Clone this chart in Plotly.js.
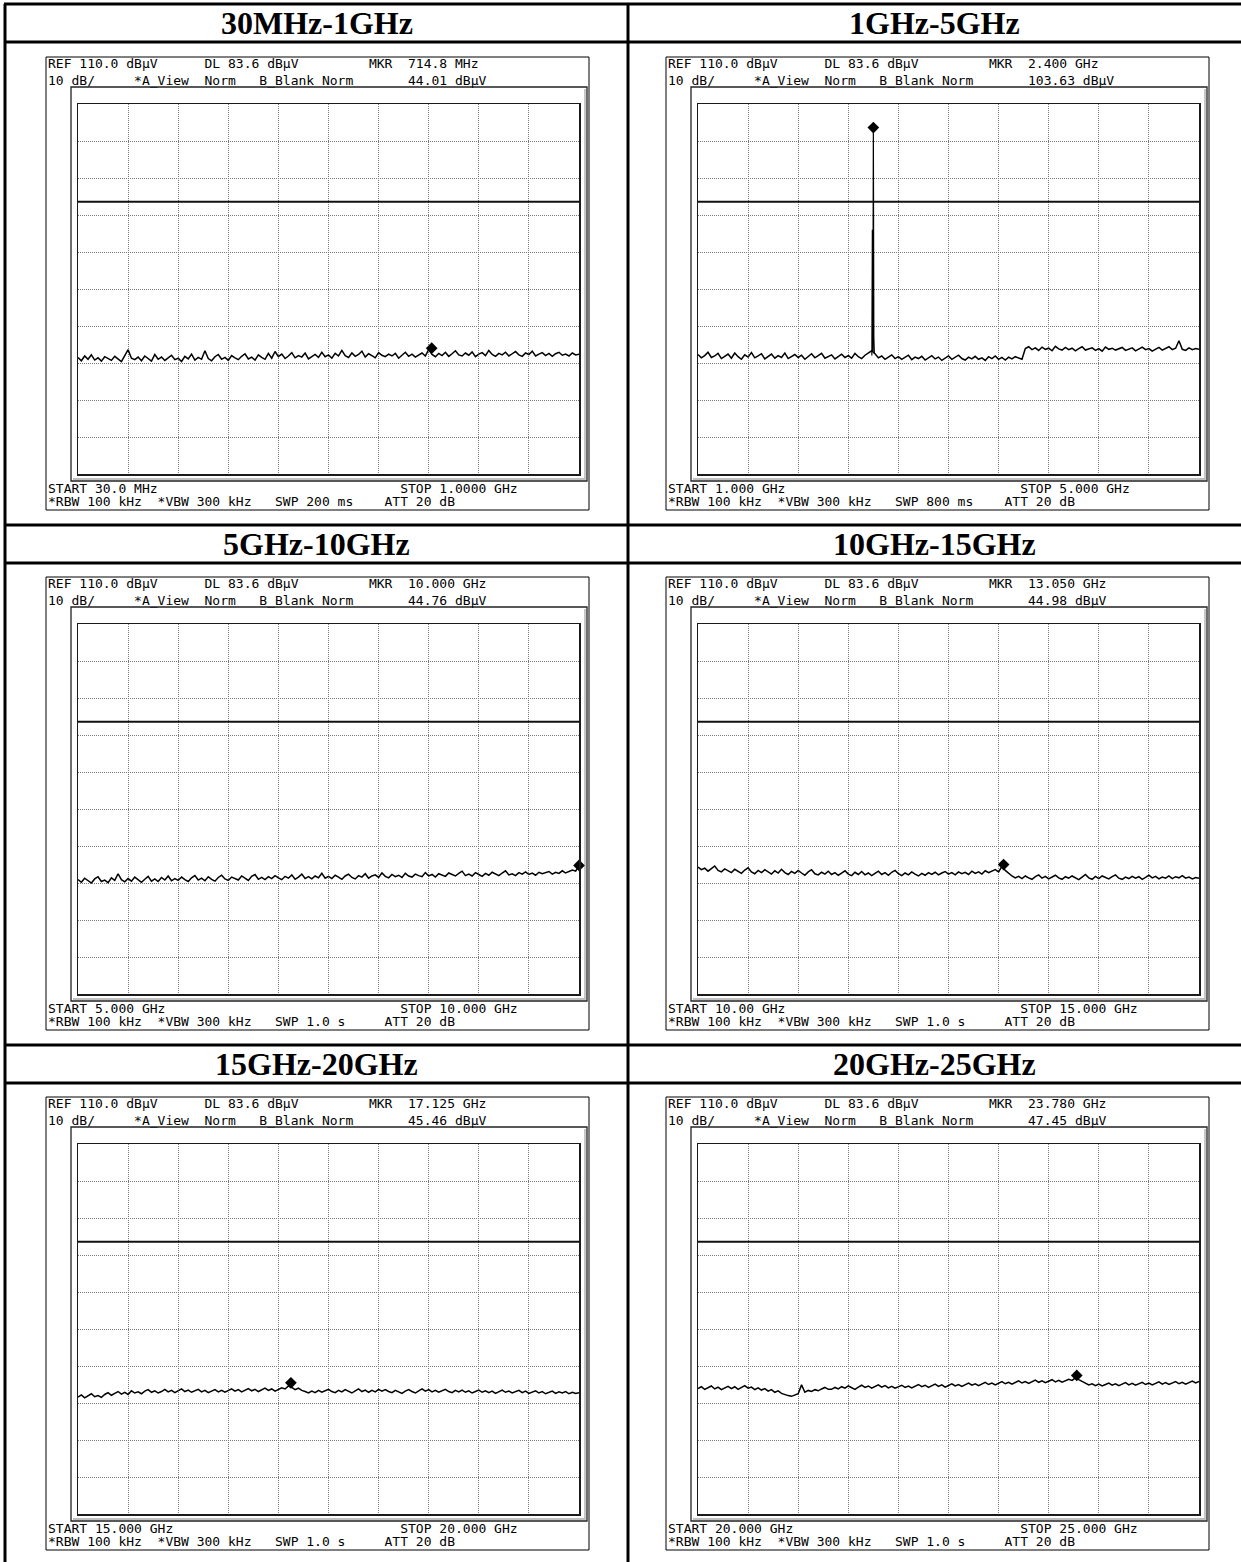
<!DOCTYPE html>
<html>
<head>
<meta charset="utf-8">
<script src="https://cdn.plot.ly/plotly-3.0.1.min.js"></script>
<style>html,body{margin:0;padding:0;background:#fff;}#chart{width:1241px;height:1562px;}</style>
</head>
<body>
<div id="chart"></div>
<script>
// ---------------- DATA ----------------
const panelTitles = ["30MHz-1GHz", "1GHz-5GHz", "5GHz-10GHz", "10GHz-15GHz", "15GHz-20GHz", "20GHz-25GHz"];
const sweepStartGHz = [0.03, 1.0, 5.0, 10.0, 15.0, 20.0];
const sweepStopGHz  = [1.0, 5.0, 10.0, 15.0, 20.0, 25.0];
const startLabels = ["START 30.0 MHz", "START 1.000 GHz", "START 5.000 GHz", "START 10.00 GHz", "START 15.000 GHz", "START 20.000 GHz"];
const stopLabels  = ["STOP 1.0000 GHz", "STOP 5.000 GHz", "STOP 10.000 GHz", "STOP 15.000 GHz", "STOP 20.000 GHz", "STOP 25.000 GHz"];
const sweepTimeLabels = ["SWP 200 ms", "SWP 800 ms", "SWP 1.0 s", "SWP 1.0 s", "SWP 1.0 s", "SWP 1.0 s"];
const markerFreqLabels  = ["714.8 MHz", "2.400 GHz", "10.000 GHz", "13.050 GHz", "17.125 GHz", "23.780 GHz"];
const markerLevelLabels = ["44.01 dBµV", "103.63 dBµV", "44.76 dBµV", "44.98 dBµV", "45.46 dBµV", "47.45 dBµV"];
const markerFreqGHz = [0.7148, 2.400, 10.000, 13.050, 17.125, 23.780];
const markerLevel   = [44.01, 103.63, 44.76, 44.98, 45.46, 47.45];
const refLevel = 110.0;      // dBµV, top of screen
const dbPerDiv = 10;
const displayLine = 83.6;    // dBµV

// trace levels (dBµV), equally spaced sweep points from start to stop
const trace1 = [
  41.5, 40.6, 41.9, 41.0, 42.2, 40.8, 41.4, 40.5, 41.7, 41.2,
  40.7, 41.8, 41.1, 40.4, 42.0, 43.6, 41.3, 40.9, 41.6, 40.6,
  41.9, 41.2, 40.5, 42.3, 41.0, 41.6, 40.7, 41.4, 42.1, 40.9,
  41.3, 40.4, 41.8, 41.1, 42.4, 40.8, 41.5, 41.0, 43.3, 41.2,
  40.6, 41.7, 42.3, 41.0, 41.5, 40.7, 42.0, 41.4, 40.9, 41.8,
  42.5, 41.1, 41.6, 40.8, 42.2, 41.5, 41.0, 42.6, 41.3, 43.1,
  41.7, 42.4, 41.2, 41.9, 42.8, 41.4, 42.0, 41.6, 42.7, 41.1,
  41.8, 42.3, 41.5, 42.9, 41.7, 42.2, 41.3, 42.6, 41.9, 43.4,
  42.0, 41.5, 42.7, 41.8, 42.3, 43.2, 41.6, 42.5, 42.0, 41.4,
  42.8, 42.1, 41.7, 42.4, 41.9, 42.6, 41.3, 42.2, 42.9, 41.8,
  42.4, 41.6, 42.1, 42.7, 41.9, 43.7, 42.3, 41.7, 42.6, 42.0,
  42.9, 41.8, 42.5, 43.3, 42.2, 41.9, 42.7, 42.1, 43.0, 41.7,
  42.4, 42.8, 42.0, 43.4, 42.3, 41.8, 42.6, 42.2, 42.9, 41.9,
  42.5, 43.1, 42.2, 41.8, 42.7, 42.3, 43.2, 41.9, 42.4, 42.8,
  42.0, 42.6, 41.8, 42.5, 42.9, 42.1, 42.4, 41.9, 42.7, 42.2, 42.4];
const trace2 = [
  42.3, 41.4, 42.0, 42.9, 41.5, 41.9, 42.6, 41.2, 41.8, 42.4,
  41.3, 42.7, 41.7, 41.0, 42.2, 41.6, 42.8, 41.4, 41.9, 42.5,
  41.1, 41.8, 42.4, 41.3, 42.0, 41.5, 42.7, 41.2, 41.7, 42.3,
  41.5, 42.1, 41.0, 41.8, 42.5, 41.4, 41.9, 42.6, 41.3, 41.7,
  42.2, 41.1, 41.8, 42.4, 41.5, 42.0, 41.3, 42.6, 41.7, 41.2,
  42.1, 42.8, 43.3, 42.5, 41.4, 41.9, 41.0, 41.6, 42.2, 41.2,
  41.7, 41.0, 41.5, 42.1, 40.9, 41.6, 41.2, 41.8, 40.8, 41.4,
  42.0, 41.1, 41.6, 40.7, 41.3, 41.9, 41.0, 41.5, 42.1, 41.2,
  40.8, 41.6, 41.1, 41.8, 41.0, 41.4, 40.7, 41.7, 41.2, 41.9,
  41.0, 41.5, 40.8, 41.6, 41.1, 41.7, 41.3, 41.0, 43.9, 44.4,
  43.6, 44.1, 43.4, 44.3, 43.7, 44.0, 43.3, 44.5, 43.8, 43.5,
  44.2, 43.6, 44.0, 43.3, 43.9, 44.4, 43.5, 43.8, 44.1, 43.4,
  43.9, 43.2, 44.3, 43.7, 44.0, 43.5, 43.9, 44.2, 43.4, 43.8,
  44.1, 43.3, 43.7, 44.3, 43.6, 43.9, 43.2, 43.8, 44.2, 43.5,
  43.9, 44.4, 43.6, 44.0, 46.0, 43.7, 43.4, 44.1, 43.6, 43.9, 43.7];
const trace3 = [
  40.9, 40.2, 41.3, 40.6, 40.0, 41.1, 41.7, 40.4, 40.8, 40.1,
  41.4, 40.7, 42.5, 40.9, 40.3, 41.2, 40.5, 41.6, 40.8, 40.2,
  41.0, 41.8, 40.5, 41.1, 40.4, 41.5, 40.8, 41.9, 40.6, 41.2,
  40.7, 41.6, 40.9, 40.4, 41.4, 42.0, 40.8, 41.3, 40.6, 41.7,
  41.0, 40.5, 41.5, 42.1, 41.1, 40.7, 41.6, 41.2, 40.8, 41.9,
  41.3, 40.7, 41.8, 42.3, 41.0, 41.5, 40.9, 41.7, 41.2, 42.0,
  41.4, 40.9, 41.8, 41.3, 42.2, 41.0, 41.6, 42.4, 41.2, 41.7,
  41.1, 41.9, 41.4, 42.6, 41.3, 41.8, 41.2, 42.1, 41.6, 41.0,
  41.9, 42.4, 41.5, 41.1, 42.0, 41.6, 42.5, 41.3, 41.9, 42.2,
  41.5, 42.7, 41.8, 41.4, 42.3, 41.7, 42.1, 41.5, 42.6, 41.9,
  41.6, 42.4, 42.0, 41.7, 42.8, 41.9, 42.3, 41.6, 42.5, 42.1,
  41.8, 42.7, 42.2, 41.9, 42.6, 43.2, 42.0, 42.4, 41.9, 42.8,
  42.3, 41.8, 42.6, 42.1, 42.9, 42.4, 42.0, 42.7, 43.3, 42.2,
  42.5, 42.0, 42.8, 42.4, 43.0, 42.3, 42.7, 42.1, 42.9, 42.5,
  42.8, 43.1, 42.4, 42.9, 42.6, 43.3, 42.7, 43.0, 43.5, 43.2, 44.76];
const trace4 = [
  44.3, 43.6, 44.0, 43.2, 43.9, 44.6, 43.4, 43.0, 43.8, 43.3,
  42.8, 43.7, 43.1, 42.6, 43.5, 44.1, 43.0, 42.5, 43.4, 42.8,
  43.6, 42.9, 42.4, 43.3, 42.7, 43.7, 42.8, 42.3, 43.1, 42.6,
  43.4, 42.7, 42.1, 43.0, 43.6, 42.5, 42.2, 42.9, 42.4, 43.2,
  42.3, 42.8, 42.1, 42.7, 43.3, 42.4, 42.0, 42.9, 42.3, 43.1,
  42.2, 42.7, 42.0, 42.6, 43.2, 42.3, 42.8, 42.1, 42.9, 43.4,
  42.5, 42.0, 42.7, 42.2, 43.0, 42.4, 41.9, 42.6, 42.1, 42.8,
  42.3, 42.9, 42.2, 42.7, 43.1, 42.4, 42.8, 42.2, 43.0, 42.5,
  42.9, 42.3, 43.2, 42.6, 43.0, 42.4, 43.3, 42.8, 43.1, 43.6,
  43.0, 44.5, 43.4, 42.6, 41.9, 41.4, 41.8, 41.2, 41.9, 41.4,
  41.0, 41.7, 42.2, 41.3, 41.8, 41.1, 41.6, 42.1, 41.4, 41.0,
  41.7, 41.3, 41.9, 41.5, 40.9, 41.6, 42.3, 41.4, 41.0, 41.8,
  41.2, 41.9, 41.5, 41.1, 41.7, 42.2, 41.3, 41.0, 41.6, 41.2,
  41.8, 41.3, 41.7, 41.0, 41.5, 42.1, 41.4, 41.8, 41.1, 41.6,
  41.3, 41.9, 41.2, 41.7, 41.4, 42.0, 41.3, 41.6, 41.1, 41.5, 41.3];
const trace5 = [
  41.6, 42.2, 41.4, 41.9, 42.5, 41.7, 42.0, 41.5, 42.3, 42.8,
  42.1, 42.6, 43.1, 42.4, 42.9, 42.3, 43.3, 42.7, 43.0, 42.5,
  43.2, 43.6, 42.9, 43.3, 42.7, 43.1, 43.7, 43.0, 43.4, 42.8,
  43.2, 43.8, 43.1, 43.5, 42.9, 43.3, 43.7, 43.0, 43.4, 42.8,
  43.1, 43.6, 43.0, 43.4, 42.9, 43.3, 43.8, 43.2, 43.6, 43.0,
  43.4, 43.9, 43.3, 43.7, 43.1, 43.5, 44.0, 43.4, 43.8, 43.2,
  43.7, 44.1, 43.8, 44.6, 44.2, 43.6, 44.0, 43.4, 43.1, 42.7,
  43.2, 42.8, 43.4, 42.9, 43.3, 43.7, 43.1, 42.8, 43.4, 43.0,
  43.6, 43.2, 42.7, 43.3, 43.8, 43.1, 43.5, 42.9, 43.4, 43.0,
  43.7, 43.2, 43.6, 43.1, 42.8, 43.4, 43.0, 42.6, 43.2, 43.6,
  43.1, 42.7, 43.3, 43.8, 43.2, 43.6, 43.0, 43.4, 42.9, 43.3,
  43.7, 43.1, 42.8, 43.4, 43.0, 43.5, 42.9, 43.3, 42.7, 43.1,
  43.5, 42.9, 43.3, 42.8, 43.2, 42.6, 43.1, 43.5, 42.9, 43.2,
  42.7, 43.1, 43.4, 42.8, 43.2, 42.6, 43.0, 43.3, 42.7, 43.1,
  42.5, 42.9, 43.2, 42.6, 43.0, 42.7, 43.1, 42.5, 42.9, 42.6, 42.8];
const trace6 = [
  43.9, 44.4, 43.7, 44.1, 44.6, 43.8, 44.3, 43.6, 44.0, 44.5,
  43.9, 44.4, 43.7, 44.2, 44.7, 44.0, 44.3, 43.6, 44.1, 43.5,
  43.9, 43.2, 43.6, 42.9, 43.3, 42.6, 42.2, 42.0, 41.8, 42.1,
  42.5, 44.9, 42.9, 43.4, 43.1, 43.6, 43.3, 43.8, 44.2, 43.7,
  43.7, 44.2, 43.8, 44.4, 44.0, 44.6, 44.1, 43.7, 44.3, 44.8,
  44.2, 44.6, 44.0, 44.5, 44.9, 44.3, 44.7, 44.1, 44.5, 44.0,
  44.4, 44.8, 44.2, 44.6, 44.1, 44.5, 45.0, 44.4, 44.8, 44.2,
  44.6, 45.1, 44.5, 44.9, 44.3, 44.7, 45.2, 44.6, 45.0, 44.5,
  44.9, 45.4, 44.8, 45.2, 44.7, 45.1, 45.6, 45.0, 45.4, 44.9,
  45.3, 45.8, 45.2, 45.6, 45.1, 45.5, 46.0, 45.4, 45.8, 45.3,
  45.7, 46.2, 45.6, 46.0, 45.5, 45.9, 46.3, 45.7, 46.1, 45.6,
  46.0, 46.4, 46.1, 46.8, 46.3, 45.8, 45.3, 44.9, 45.2, 44.7,
  45.1, 44.6, 45.0, 45.4, 44.8, 45.2, 44.7, 45.1, 45.5, 44.9,
  45.3, 44.8, 45.2, 45.6, 45.0, 45.4, 44.9, 45.3, 45.7, 45.1,
  45.5, 45.0, 45.4, 45.8, 45.2, 45.6, 45.1, 45.5, 45.9, 45.4, 45.8];
const traces = [trace1, trace2, trace3, trace4, trace5, trace6];
// carrier at 2.4 GHz in the 1-5 GHz sweep
const carrierFreqGHz = [2.388, 2.392, 2.396, 2.400, 2.404, 2.408];
const carrierLevel   = [42.0, 76.0, 43.0, 103.63, 47.0, 42.5];

// ---------------- LAYOUT HELPERS ----------------
const W = 1241, H = 1562;
const fx = x => x / W;
const fy = y => 1 - y / H;
const colOff = [0, 620];
const rowOff = [0, 520, 1040];
const NB = '\u00A0';
function padTo(s, n) { while (s.length < n) s += ' '; return s; }
function nb(s) { return s.replace(/ /g, NB); }

const data = [];
const layout = {
  width: W, height: H,
  margin: {l: 0, r: 0, t: 0, b: 0},
  paper_bgcolor: '#ffffff', plot_bgcolor: '#ffffff',
  showlegend: false,
  shapes: [], annotations: []
};
const monoFont = {family: 'DejaVu Sans Mono, Liberation Mono, monospace', size: 13, color: '#000'};

for (let k = 0; k < 6; k++) {
  const c = k % 2, r = Math.floor(k / 2);
  const ox = colOff[c], oy = rowOff[r];
  const s = k === 0 ? '' : String(k + 1);
  const xa = 'x' + s, ya = 'y' + s;
  const st = sweepStartGHz[k], sp = sweepStopGHz[k];
  const vals = traces[k];
  const freqs = vals.map((_, i) => st + i * (sp - st) / (vals.length - 1));
  data.push({x: freqs, y: vals, xaxis: xa, yaxis: ya, type: 'scatter', mode: 'lines',
    line: {color: '#000', width: 1.5}, hoverinfo: 'skip'});
  if (k === 1) {
    data.push({x: carrierFreqGHz, y: carrierLevel, xaxis: xa, yaxis: ya, type: 'scatter', mode: 'lines',
      line: {color: '#000', width: 1.2}, hoverinfo: 'skip'});
  }
  data.push({x: [markerFreqGHz[k]], y: [markerLevel[k]], xaxis: xa, yaxis: ya, type: 'scatter', mode: 'markers',
    marker: {symbol: 'diamond', size: 9, color: '#000'}, hoverinfo: 'skip', cliponaxis: false});

  const axCommon = {showgrid: true, gridcolor: '#7a7a7a', griddash: '1px,1px', gridwidth: 1,
    showline: true, mirror: true, linecolor: '#1a1a1a', linewidth: 1.5,
    ticks: '', showticklabels: false, zeroline: false, fixedrange: true};
  layout['xaxis' + s] = Object.assign({}, axCommon, {
    domain: [fx(78 + ox), fx(579 + ox)], range: [st, sp], tick0: st, dtick: (sp - st) / 10,
    anchor: ya});
  layout['yaxis' + s] = Object.assign({}, axCommon, {
    domain: [fy(474 + oy), fy(104 + oy)], range: [refLevel - 10 * dbPerDiv, refLevel], tick0: 0, dtick: dbPerDiv,
    anchor: xa});

  // display line
  layout.shapes.push({type: 'line', xref: xa + ' domain', yref: ya, x0: 0, x1: 1, y0: displayLine, y1: displayLine,
    line: {color: '#111', width: 2}});
  // screenshot frames
  layout.shapes.push({type: 'rect', xref: 'paper', yref: 'paper', x0: fx(46 + ox), x1: fx(589 + ox), y0: fy(510 + oy), y1: fy(57 + oy),
    line: {color: '#000', width: 1}, layer: 'below'});
  layout.shapes.push({type: 'rect', xref: 'paper', yref: 'paper', x0: fx(71 + ox), x1: fx(587 + ox), y0: fy(481 + oy), y1: fy(87 + oy),
    line: {color: '#222', width: 1.3}, layer: 'below'});
  layout.shapes.push({type: 'path', xref: 'paper', yref: 'paper',
    path: 'M' + fx(73 + ox) + ',' + fy(479 + oy) + ' L' + fx(585 + ox) + ',' + fy(479 + oy) + ' L' + fx(585 + ox) + ',' + fy(89 + oy),
    line: {color: '#aaa', width: 1.3}, layer: 'below'});

  // instrument texts
  const l1 = padTo(padTo(padTo('REF ' + refLevel.toFixed(1) + ' dBµV', 20) + 'DL ' + displayLine.toFixed(1) + ' dBµV', 41) + 'MKR', 46) + markerFreqLabels[k];
  const l2 = padTo(padTo(padTo(padTo(dbPerDiv + ' dB/', 11) + '*A_View', 20) + 'Norm', 27) + 'B_Blank Norm', 46) + markerLevelLabels[k];
  const b1 = padTo(startLabels[k], 45) + stopLabels[k];
  const b2 = padTo(padTo(padTo('*RBW 100 kHz', 14) + '*VBW 300 kHz', 29) + sweepTimeLabels[k], 43) + 'ATT 20 dB';
  const lines = [[l1, 63.5], [l2, 80.5], [b1, 488.5], [b2, 501.5]];
  for (const [t, yy] of lines) {
    layout.annotations.push({text: nb(t), xref: 'paper', yref: 'paper', x: fx(46 + ox), y: fy(yy + oy),
      xanchor: 'left', yanchor: 'middle', showarrow: false, font: monoFont});
  }
  // header
  layout.annotations.push({text: '<b>' + panelTitles[k] + '</b>', xref: 'paper', yref: 'paper',
    x: fx(c === 0 ? 316.5 : 934.5), y: fy([23, 544, 1064][r]), xanchor: 'center', yanchor: 'middle', showarrow: false,
    font: {family: 'Liberation Serif, Times New Roman, serif', size: 32, color: '#000'}});
}

// table lines
const tl = (x0, y0, x1, y1) => layout.shapes.push({type: 'line', xref: 'paper', yref: 'paper',
  x0: fx(x0), y0: fy(y0), x1: fx(x1), y1: fy(y1), line: {color: '#000', width: 3}});
tl(4, 4, 1241, 4);
tl(5, 4, 5, 1562);
tl(628, 4, 628, 1562);
[42, 525, 563, 1045, 1083].forEach(y => tl(4, y, 1241, y));

Plotly.newPlot('chart', data, layout, {staticPlot: true, displayModeBar: false});
</script>
</body>
</html>
